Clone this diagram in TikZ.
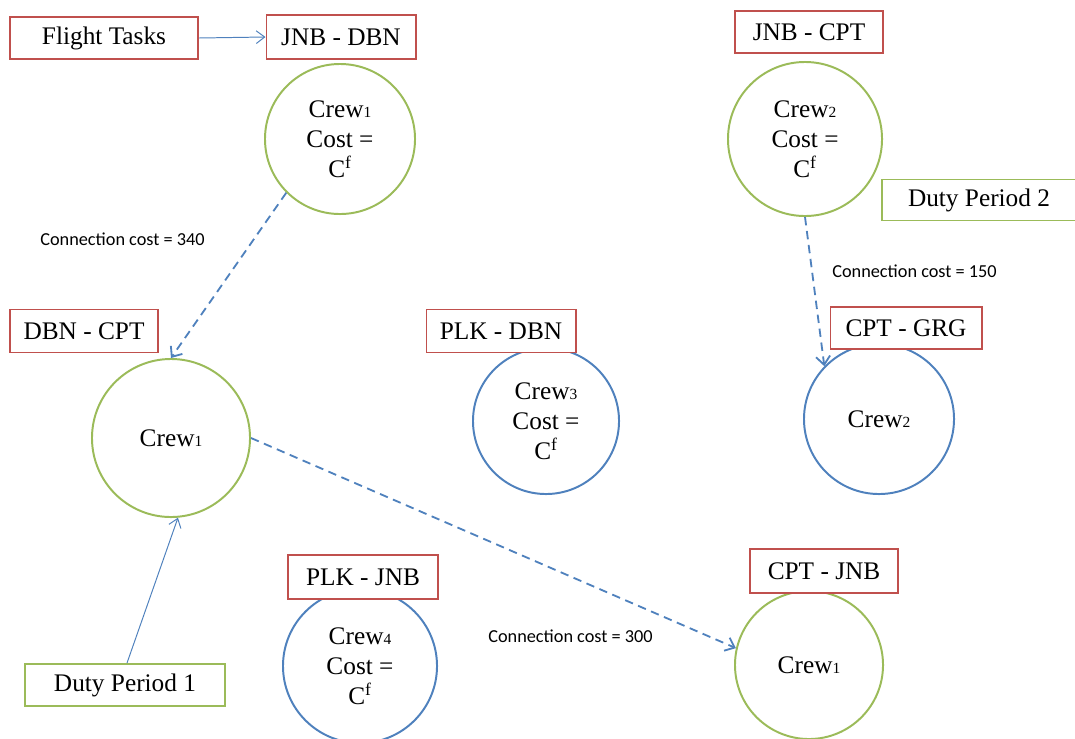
\documentclass[tikz,border=0pt]{standalone}
\usepackage{fontspec}
\setmainfont{Liberation Serif}
\newfontfamily\lblfont{Carlito}
\usetikzlibrary{arrows.meta}
\definecolor{bred}{HTML}{C0504D}
\definecolor{bgreen}{HTML}{9BBB59}
\definecolor{bblue}{HTML}{4F81BD}
\newcommand{\sub}[1]{{\fontsize{11}{11}\selectfont #1}}
\tikzset{
  main/.style={font=\fontsize{18}{21.5}\selectfont},
  box/.style={main, draw=bred, line width=1.4pt, fill=white, inner sep=0pt, align=center},
  gbox/.style={box, draw=bgreen},
  gcirc/.style={main, circle, draw=bgreen, line width=1.4pt, inner sep=0pt, align=center},
  bcirc/.style={gcirc, draw=bblue},
  solidarr/.style={draw=bblue, line width=0.7pt, -{Straight Barb[length=6pt,width=9pt]}},
  dasharr/.style={draw=bblue, line width=1.3pt, dash pattern=on 6pt off 4pt, -{Straight Barb[length=6pt,width=10pt]}},
  lbl/.style={font=\lblfont\fontsize{13}{15}\selectfont, anchor=west, inner sep=0pt}
}
\begin{document}
\begin{tikzpicture}[x=0.025cm,y=-0.025cm]
\useasboundingbox (0,0) rectangle (1075,738);
% circles
\node[gcirc, minimum size=3.75cm] (c1a) at (340,139) {Crew\sub{1}\\Cost =\\C\textsuperscript{f}};
\node[gcirc, minimum size=3.85cm] (c2a) at (805,139) {Crew\sub{2}\\Cost =\\C\textsuperscript{f}};
\node[gcirc, minimum size=3.95cm] (c1b) at (171,438) {Crew\sub{1}};
\node[bcirc, minimum size=3.65cm] (c3) at (546,421) {Crew\sub{3}\\Cost =\\C\textsuperscript{f}};
\node[bcirc, minimum size=3.75cm] (c2b) at (879,419) {Crew\sub{2}};
\node[bcirc, minimum size=3.85cm] (c4) at (360,666) {Crew\sub{4}\\Cost =\\C\textsuperscript{f}};
\node[gcirc, minimum size=3.7cm] (c1c) at (809,665) {Crew\sub{1}};
% boxes
\node[box, minimum width=4.7cm, minimum height=1.05cm] (ft) at (104,38) {Flight Tasks};
\node[box, minimum width=3.725cm, minimum height=1.1cm] (jd) at (341,37) {JNB - DBN};
\node[box, minimum width=3.7cm, minimum height=1.05cm] (jc) at (809,32) {JNB - CPT};
\node[gbox, minimum width=4.85cm, minimum height=1.025cm] (dp2) at (979,200) {Duty Period 2};
\node[box, minimum width=3.775cm, minimum height=1.05cm] (cg) at (906,328) {CPT - GRG};
\node[box, minimum width=3.675cm, minimum height=1.075cm] (dc) at (84,331) {DBN - CPT};
\node[box, minimum width=3.725cm, minimum height=1.075cm] (pd) at (501,331) {PLK - DBN};
\node[gbox, minimum width=4.975cm, minimum height=1.05cm] (dp1) at (125,685) {Duty Period 1};
\node[box, minimum width=3.75cm, minimum height=1.1cm] (pj) at (363,577) {PLK - JNB};
\node[box, minimum width=3.7cm, minimum height=1.1cm] (cj) at (824,571) {CPT - JNB};
% labels
\node[lbl] (l340) at (40,239) {Connection cost = 340};
\node[lbl] (l150) at (832,271) {Connection cost = 150};
\node[lbl] (l300) at (488,636) {Connection cost = 300};
% connectors
\draw[solidarr] (ft.east) -- (jd.west);
\draw[solidarr] (dp1.north) ++(2,0) coordinate (dp1t) (dp1t) -- (c1b.-85);
\draw[dasharr] (c1a.225) -- (c1b.north);
\draw[dasharr] (c2a.south) -- (c2b.136);
\draw[dasharr] (c1b.east) -- (c1c.167);
\end{tikzpicture}
\end{document}
